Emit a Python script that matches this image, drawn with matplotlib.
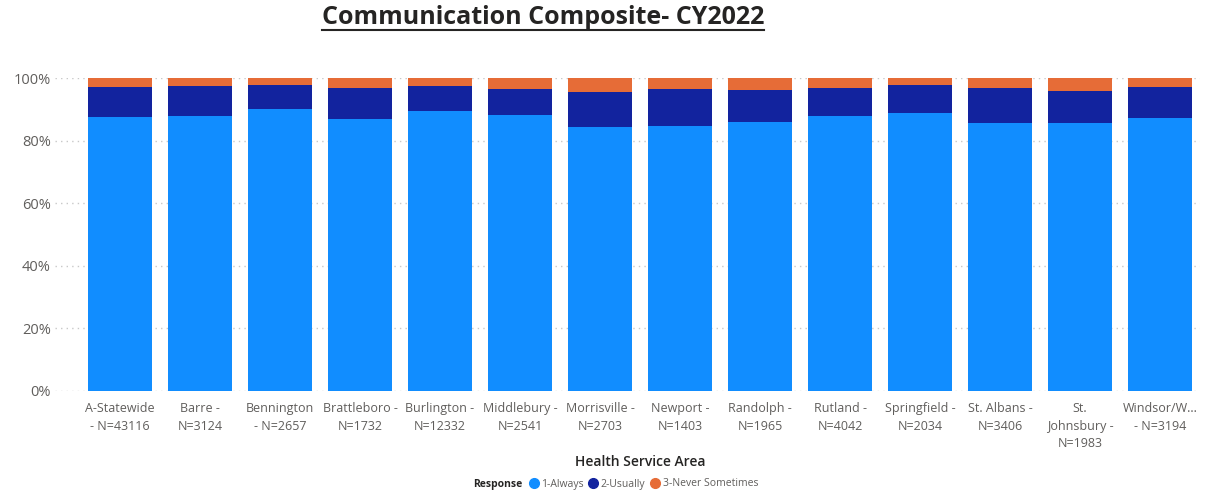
import numpy as np
import matplotlib.pyplot as plt
from matplotlib.lines import Line2D

plt.rcParams['font.family'] = ['Open Sans', 'DejaVu Sans']

areas = ['A-Statewide\n- N=43116', 'Barre -\nN=3124', 'Bennington\n- N=2657', 'Brattleboro -\nN=1732',
         'Burlington -\nN=12332', 'Middlebury -\nN=2541', 'Morrisville -\nN=2703', 'Newport -\nN=1403',
         'Randolph -\nN=1965', 'Rutland -\nN=4042', 'Springfield -\nN=2034', 'St. Albans -\nN=3406',
         'St.\nJohnsbury -\nN=1983', 'Windsor/W...\n- N=3194']
always = [87.5, 87.9, 90.2, 87.0, 89.5, 88.2, 84.5, 84.7, 85.8, 87.9, 88.7, 85.5, 85.5, 87.3]
usually = [9.6, 9.5, 7.7, 9.8, 7.8, 8.3, 11.0, 11.8, 10.5, 8.9, 9.2, 11.3, 10.3, 9.8]
never = [2.9, 2.6, 2.1, 3.2, 2.7, 3.5, 4.5, 3.5, 3.7, 3.2, 2.1, 3.2, 4.2, 2.9]
responses = ['1-Always', '2-Usually', '3-Never Sometimes']
colors = ['#118DFF', '#12239E', '#E66C37']

fig = plt.figure(figsize=(12.25, 4.95), dpi=100)
ax = fig.add_axes([55/1225, 1 - 391/495, 1145/1225, 313/495])

x = np.arange(len(areas))
a = np.array(always) / 100
u = np.array(usually) / 100
n = np.array(never) / 100
ax.bar(x, a, width=0.8, color=colors[0], zorder=2)
ax.bar(x, u, width=0.8, bottom=a, color=colors[1], zorder=2)
ax.bar(x, n, width=0.8, bottom=a + u, color=colors[2], zorder=2)

ax.set_xlim(-0.8125, 13.5)
ax.set_ylim(0, 1)
ax.set_yticks([0, 0.2, 0.4, 0.6, 0.8, 1.0])
ax.set_yticklabels(['0%', '20%', '40%', '60%', '80%', '100%'])
ax.set_xticks(x)
ax.set_xticklabels(areas, fontsize=9, color='#605E5C', linespacing=1.45)
ax.tick_params(axis='x', length=0, pad=8)
ax.tick_params(axis='y', length=0, pad=3, labelsize=10.5, labelcolor='#605E5C')
ax.grid(axis='y', color='#C8C8C8', linestyle=(0, (1, 3)), linewidth=1, zorder=0)
for s in ax.spines.values():
    s.set_visible(False)

ax.text(x=6.5, y=-0.228, s='Health Service Area', transform=ax.transData, ha='center', va='center',
        fontsize=10, fontweight='semibold', color='#252423')

t = fig.text(543/1225, 1 - 18/495, 'Communication Composite- CY2022', ha='center', va='center',
             fontsize=18, fontweight='bold', color='#252423')
fig.canvas.draw()
bb = t.get_window_extent().transformed(fig.transFigure.inverted())
fig.add_artist(Line2D([bb.x0, bb.x1], [bb.y0 + 0.002, bb.y0 + 0.002], color='#252423', linewidth=1.5,
                      transform=fig.transFigure))

fig.text(522/1225, 1 - 484/495, 'Response', ha='right', va='center', fontsize=7.5, fontweight='bold',
         color='#252423')
handles = [Line2D([], [], marker='o', linestyle='', color=c, markersize=7) for c in colors]
fig.legend(handles, responses, loc='center left', bbox_to_anchor=(530/1225, 1 - 484/495), ncol=3,
           frameon=False, fontsize=7.5, handlelength=0.7, handletextpad=0.35, columnspacing=0.6,
           labelcolor='#605E5C', borderaxespad=0, borderpad=0)

fig.savefig('out.png', dpi=100)
